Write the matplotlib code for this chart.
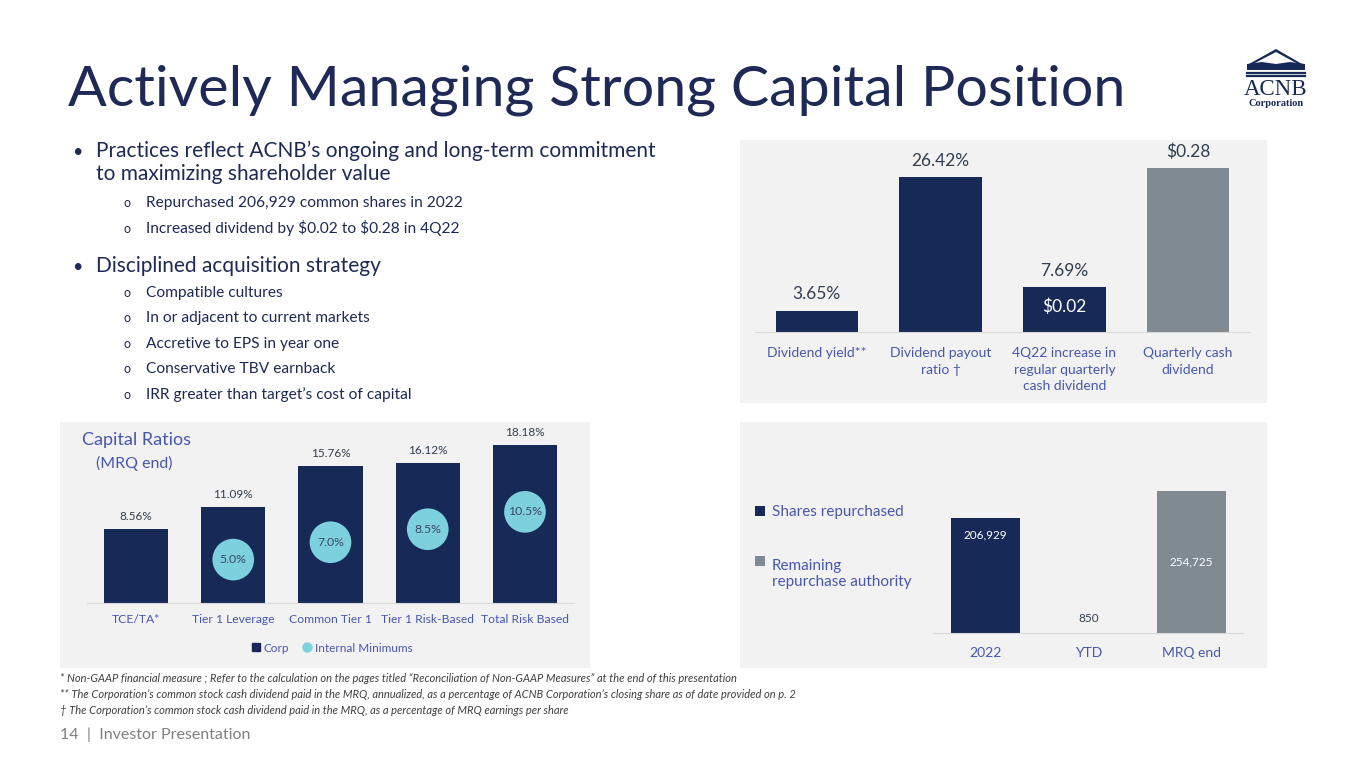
import matplotlib
matplotlib.use('Agg')
import matplotlib.pyplot as plt
from matplotlib.patches import Rectangle, Polygon
from matplotlib.lines import Line2D

# ---------------- data ----------------
div_categories = ['Dividend yield**', 'Dividend payout\nratio \u2020',
                  '4Q22 increase in\nregular quarterly\ncash dividend',
                  'Quarterly cash\ndividend']
div_values = [3.65, 26.42, 7.69, 28.0]   # last bar: $0.28 drawn in cents
div_labels = ['3.65%', '26.42%', '7.69%', '$0.28']
div_inner = ['', '', '$0.02', '']

cap_categories = ['TCE/TA*', 'Tier 1 Leverage', 'Common Tier 1',
                  'Tier 1 Risk-Based', 'Total Risk Based']
cap_corp = [8.56, 11.09, 15.76, 16.12, 18.18]
cap_min_idx = [1, 2, 3, 4]
cap_min = [5.0, 7.0, 8.5, 10.5]

rep_categories = ['2022', 'YTD', 'MRQ end']
rep_shares = [206929, 850, 0]
rep_remaining = [0, 0, 254725]
rep_legend = ['Shares repurchased', 'Remaining\nrepurchase authority']

# ---------------- style ----------------
W, H = 1365, 768
NAVY = '#172957'
GRAY = '#7F8A93'
BLUE = '#4757B0'
CYAN = '#7DD0DD'
PANEL = '#F2F2F2'
TXT = '#1E2A55'
plt.rcParams['font.family'] = ['Lato', 'DejaVu Sans']
plt.rcParams['text.parse_math'] = False

fig = plt.figure(figsize=(W / 100, H / 100), dpi=100)


def fy(y):
    return 1 - y / H


def ftext(x, y, s, **kw):
    kw.setdefault('va', 'baseline')
    return fig.text(x / W, fy(y), s, **kw)


def add_ax(left, right, top, bottom):
    ax = fig.add_axes([left / W, fy(bottom), (right - left) / W, (bottom - top) / H])
    ax.set_facecolor('none')
    for sp in ['top', 'right', 'left']:
        ax.spines[sp].set_visible(False)
    ax.spines['bottom'].set_color('#D9D9D9')
    ax.set_yticks([])
    ax.tick_params(axis='x', length=0)
    return ax


def panel(x0, y0, x1, y1):
    fig.patches.append(Rectangle((x0 / W, fy(y1)), (x1 - x0) / W, (y1 - y0) / H,
                                 transform=fig.transFigure, facecolor=PANEL,
                                 edgecolor='none', zorder=-10))


def fsquare(x, y, size, color):
    fig.patches.append(Rectangle((x / W, fy(y + size / 2)), size / W, size / H,
                                 transform=fig.transFigure, facecolor=color, edgecolor='none'))


# ---------------- title ----------------
ftext(68, 105, 'Actively Managing Strong Capital Position', fontsize=41.3, color=TXT)

# ---------------- logo ----------------
def L(x, y):
    return (x / W, fy(y))

fig.patches.append(Polygon([L(1249, 64), L(1276, 49), L(1302, 64), L(1298, 64),
                            L(1276, 52), L(1253, 64)], closed=True,
                           transform=fig.transFigure, facecolor=NAVY, edgecolor='none'))
fig.patches.append(Polygon([L(1247, 64), L(1262, 62), L(1276, 64), L(1290, 62), L(1305, 64),
                            L(1305, 70), L(1247, 70)], closed=True,
                           transform=fig.transFigure, facecolor=NAVY, edgecolor='none'))
for yy in (72.5, 76):
    fig.lines.append(Line2D([1247 / W, 1305 / W], [fy(yy), fy(yy)], transform=fig.transFigure,
                            color=NAVY, lw=1.6))
ftext(1276, 95, 'ACNB', fontsize=16.5, color=NAVY, ha='center', family='Liberation Serif')
ftext(1276, 106, 'Corporation', fontsize=7.5, color=NAVY, ha='center',
      family='Liberation Serif', weight='bold')

# ---------------- bullets ----------------
ftext(72, 157, '\u2022', fontsize=13, color=TXT)
ftext(96, 157, 'Practices reflect ACNB\u2019s ongoing and long-term commitment', fontsize=15, color=TXT)
ftext(96, 180, 'to maximizing shareholder value', fontsize=15, color=TXT)
subs1 = [(207, 'Repurchased 206,929 common shares in 2022'),
         (233, 'Increased dividend by $0.02 to $0.28 in 4Q22')]
ftext(72, 272, '\u2022', fontsize=13, color=TXT)
ftext(96, 272, 'Disciplined acquisition strategy', fontsize=15, color=TXT)
subs2 = [(297, 'Compatible cultures'), (322, 'In or adjacent to current markets'),
         (348, 'Accretive to EPS in year one'), (373, 'Conservative TBV earnback'),
         (399, 'IRR greater than target\u2019s cost of capital')]
for yb, s in subs1 + subs2:
    ftext(123, yb, 'o', fontsize=9, color=TXT)
    ftext(146, yb, s, fontsize=11.2, color=TXT)

# ---------------- panels ----------------
panel(740, 140, 1267, 403)
panel(60, 422, 590, 668)
panel(740, 422, 1267, 668)

# ---------------- top-right: dividends ----------------
ax1 = add_ax(755, 1250, 150, 332)
x1 = list(range(len(div_values)))
cols1 = [NAVY, NAVY, NAVY, GRAY]
ax1.bar(x1, div_values, width=0.665, color=cols1)
ax1.set_xlim(-0.5, len(div_values) - 0.5)
ax1.set_ylim(0, 182 / 5.85)
for i, (v, lab, inn) in enumerate(zip(div_values, div_labels, div_inner)):
    ax1.annotate(lab, (i, v), xytext=(0, 6), textcoords='offset points',
                 ha='center', va='bottom', fontsize=12.5, color='#333F4F')
    if inn:
        ax1.text(i, v / 2 + 0.4, inn, ha='center', va='center', fontsize=12.5, color='white')
ax1.set_xticks(x1)
ax1.set_xticklabels(div_categories, fontsize=10, color=BLUE, linespacing=1.45)
ax1.tick_params(axis='x', pad=11)

# ---------------- bottom-left: capital ratios ----------------
ax2 = add_ax(87.4, 573.6, 430, 603)
x2 = list(range(len(cap_corp)))
ax2.bar(x2, cap_corp, width=0.66, color=NAVY, zorder=2)
ax2.scatter(cap_min_idx, cap_min, s=900, color=CYAN, zorder=3, edgecolors='none')
ax2.set_xlim(-0.5, len(cap_corp) - 0.5)
ax2.set_ylim(0, 173 / 8.68)
for i, v in enumerate(cap_corp):
    ax2.annotate(f'{v:.2f}%', (i, v), xytext=(0, 5), textcoords='offset points',
                 ha='center', va='bottom', fontsize=8.5, color='#333F4F')
for i, v in zip(cap_min_idx, cap_min):
    ax2.text(i, v, f'{v:.1f}%', ha='center', va='center', fontsize=8.8, color='#3D476A', zorder=4)
ax2.set_xticks(x2)
ax2.set_xticklabels(cap_categories, fontsize=8.7, color=BLUE)
ax2.tick_params(axis='x', pad=8)
ftext(82, 445, 'Capital Ratios', fontsize=13, color=BLUE)
ftext(96, 468, '(MRQ end)', fontsize=11.5, color=BLUE)
h_corp = Line2D([], [], marker='s', color=NAVY, linestyle='none', markersize=6)
h_min = Line2D([], [], marker='o', color=CYAN, linestyle='none', markersize=6.5)
fig.legend([h_corp, h_min], ['Corp', 'Internal Minimums'], loc='center',
           bbox_to_anchor=(332 / W, fy(648)), ncol=2, frameon=False, fontsize=8.5,
           labelcolor=BLUE, handlelength=0.7, handletextpad=0.3, columnspacing=1.2)

# ---------------- bottom-right: repurchases ----------------
ax3 = add_ax(934, 1243, 440, 633)
x3 = list(range(len(rep_categories)))
ax3.bar(x3, rep_shares, width=0.67, color=NAVY)
ax3.bar(x3, rep_remaining, bottom=rep_shares, width=0.67, color=GRAY)
ax3.set_xlim(-0.5, len(rep_categories) - 0.5)
ax3.set_ylim(0, 193 / 0.000556)
ax3.annotate(f'{rep_shares[0]:,}', (0, rep_shares[0]), xytext=(0, -8), textcoords='offset points',
             ha='center', va='top', fontsize=8.5, color='white')
ax3.annotate(f'{rep_shares[1]:,}', (1, rep_shares[1]), xytext=(0, 6), textcoords='offset points',
             ha='center', va='bottom', fontsize=8.5, color='#333F4F')
ax3.text(2, rep_shares[2] + rep_remaining[2] / 2, f'{rep_remaining[2]:,}', ha='center',
         va='center', fontsize=8.5, color='white')
ax3.set_xticks(x3)
ax3.set_xticklabels(rep_categories, fontsize=10, color=BLUE)
ax3.tick_params(axis='x', pad=10)
# legend (drawn manually to match the slide layout)
fsquare(755, 511, 10, NAVY)
ftext(772, 516, rep_legend[0], fontsize=11, color=BLUE)
fsquare(755, 561, 10, GRAY)
ftext(772, 586, rep_legend[1], fontsize=11, color=BLUE, linespacing=1.2)

# ---------------- footnotes ----------------
notes = ['* Non-GAAP financial measure ; Refer to the calculation on the pages titled \u201cReconciliation of Non-GAAP Measures\u201d at the end of this presentation',
         '** The Corporation\u2019s common stock cash dividend paid in the MRQ, annualized, as a percentage of ACNB Corporation\u2019s closing share as of date provided on p. 2',
         '\u2020 The Corporation\u2019s common stock cash dividend paid in the MRQ, as a percentage of MRQ earnings per share']
for yb, s in zip([682, 698, 714], notes):
    ftext(60, yb, s, fontsize=8.0, style='italic', color='#3F3F3F')
ftext(60, 739, '14  |  Investor Presentation', fontsize=11.5, color='#808080')

fig.savefig('out.png', dpi=100)
